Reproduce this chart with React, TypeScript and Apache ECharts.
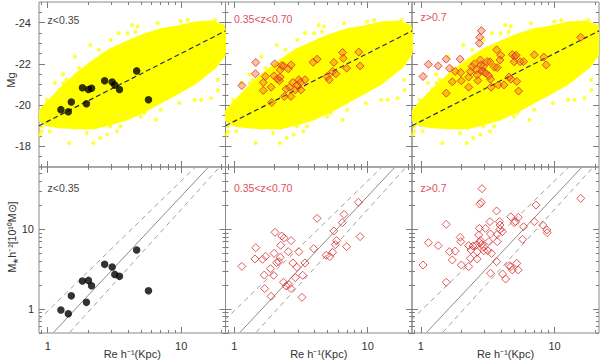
import React, { useEffect, useRef } from "react";
import * as echarts from "echarts";

// ---------- axis ranges & ticks ----------
const reRange = [0.86, 21.5];
const mgRange = [-25, -17];
const massRange = [0.5, 60];

const reMajorTicks = [1, 10];
const reMinorTicks = [0.9, 2, 3, 4, 5, 6, 7, 8, 9, 20];
const mgMajorTicks = [-24, -22, -20, -18];
const mgMinorTicks = [-24.5, -23.5, -23, -22.5, -21.5, -21, -20.5, -19.5, -19, -18.5, -17.5];
const massMajorTicks = [1, 10];
const massMinorTicks = [0.5, 0.6, 0.7, 0.8, 0.9, 2, 3, 4, 5, 6, 7, 8, 9, 20, 30, 40, 50];

// ---------- texts ----------
const panelLabels = ["z<0.35", "0.35<z<0.70", "z>0.7"];
const xAxisTitle = "Re h⁻¹(Kpc)";
const topYTitle = "Mg";
const bottomYTitle = "M⁎h⁻²[10¹⁰M⊙]";

// ---------- background sample (yellow cloud) : [Re, Mg] ----------
const cloudOutline: number[][] = [
  [0.87, -19.68], [0.98, -20.07], [1.23, -20.74], [1.66, -21.52], [2.23, -22.15],
  [2.94, -22.68], [3.96, -23.06], [5.32, -23.4], [7.03, -23.65], [9.44, -23.79],
  [12.7, -23.98], [16.8, -24.03], [20.7, -23.84], [21.8, -23.16], [21.0, -22.44],
  [18.0, -21.86], [12.7, -21.08], [9.44, -20.6], [7.03, -20.16], [5.32, -19.73],
  [3.96, -19.34], [2.94, -19.1], [2.23, -18.9], [1.66, -18.9], [1.23, -18.95],
  [0.98, -19.05], [0.87, -19.29],
];
const cloudOutliers: number[][] = [
  [0.87, -18.57], [0.896, -18.97], [1.035, -18.73], [1.45, -18.16], [2.2, -18.16],
  [1.6, -22.35], [1.38, -21.23], [1.23, -20.74], [2.08, -22.92], [3.4, -23.49],
  [4.55, -23.56], [9.95, -24.05], [2.94, -18.97], [3.3, -18.73], [4.96, -19.45],
  [14.1, -20.26], [16.8, -20.34], [18.8, -21.23], [8.85, -20.58], [7.03, -19.78],
  [18.9, -20.74], [12.6, -20.26], [9.7, -20.1], [5.3, -19.62], [6.5, -19.29],
  [3.52, -18.97], [2.79, -18.57], [3.96, -23.49], [2.96, -23.16], [2.42, -22.68],
  [4.71, -23.81], [6.67, -23.97], [11.2, -24.13], [17.9, -24.13], [0.98, -20.26],
  [1.31, -21.07], [0.9, -18.73], [4.3, -23.89], [1.13, -21.07], [1.72, -21.8],
  [1.96, -18.65], [2.47, -18.41], [1.3, -21.5], [20.5, -22.9],
];

// ---------- relations ----------
const topFitLine: number[][] = [[0.86, -19.0], [21.5, -23.6]];
const bottomSolidLine: number[][] = [[1.106, 0.51], [16.05, 60]];
const bottomUpperDashed: number[][] = [[0.852, 0.728], [12.8, 60]];
const bottomLowerDashed: number[][] = [[1.462, 0.51], [19.45, 60]];

// ---------- z < 0.35 ----------
const lowZTop: number[][] = [
  [1.255, -19.78], [1.426, -19.68], [1.502, -20.15], [1.82, -20.84], [1.95, -20.07],
  [2.02, -20.76], [2.13, -20.82], [2.67, -21.18], [3.04, -21.12], [3.18, -20.97],
  [3.45, -20.76], [4.64, -21.66], [5.69, -20.26],
];
const lowZBottom: number[][] = [
  [1.255, 0.97], [1.426, 0.87], [1.502, 1.46], [1.82, 2.24], [1.95, 1.21],
  [2.02, 2.28], [2.13, 1.95], [2.67, 3.62], [3.04, 3.35], [3.18, 2.71],
  [3.45, 2.56], [4.64, 5.47], [5.69, 1.69],
];

// ---------- 0.35 < z < 0.70 ----------
const midZTop: number[][] = [
  [1.14, -20.95], [1.45, -22.07], [1.44, -21.52], [1.65, -21.1], [1.71, -21.39],
  [1.65, -20.71], [1.91, -20.13], [1.89, -20.87], [2.01, -22.0], [1.99, -21.42],
  [2.11, -21.27], [2.18, -21.18], [2.21, -21.71], [2.27, -21.92], [2.34, -21.9],
  [2.54, -21.76], [2.67, -21.95], [2.21, -21.36], [2.37, -20.42], [2.45, -20.78],
  [2.6, -20.87], [2.66, -20.42], [2.75, -21.1], [2.87, -20.74], [2.95, -20.97],
  [3.05, -21.23], [3.16, -20.74], [3.39, -21.23], [3.13, -21.1], [3.9, -22.08],
  [4.18, -22.23], [4.97, -21.39], [5.15, -21.23], [5.46, -21.63], [5.58, -22.07],
  [5.78, -21.52], [6.49, -22.55], [6.57, -22.27], [6.96, -21.79], [8.58, -22.57],
  [8.78, -21.9],
];
const midZBottom: number[][] = [
  [1.14, 3.42], [1.45, 5.86], [1.43, 4.23], [1.63, 4.19], [1.72, 4.56],
  [1.68, 2.66], [1.69, 1.8], [1.89, 1.44], [1.87, 3.2], [1.97, 2.64],
  [2.02, 9.12], [1.99, 4.97], [2.08, 3.8], [2.16, 3.91], [2.21, 4.43],
  [2.23, 6.27], [2.27, 8.2], [2.37, 7.74], [2.54, 5.22], [2.67, 7.17],
  [2.34, 2.16], [2.45, 1.94], [2.57, 2.02], [2.66, 1.8], [2.75, 3.77],
  [2.87, 2.47], [2.95, 3.32], [3.05, 5.22], [3.26, 2.64], [3.39, 3.77],
  [3.22, 1.4], [3.94, 5.69], [4.18, 13.65], [4.89, 4.7], [5.21, 4.52],
  [5.46, 5.12], [5.58, 9.47], [5.72, 6.39], [5.85, 7.17], [6.46, 12.05],
  [6.65, 15.3], [6.96, 6.03], [8.53, 21.7], [8.78, 8.05],
];

// ---------- z > 0.7 ----------
const highZTop: number[][] = [
  [1.04, -21.39], [1.14, -21.98], [1.35, -21.9], [1.55, -22.23], [1.55, -20.58],
  [1.64, -21.79], [1.72, -21.13], [1.81, -21.63], [1.97, -22.23], [1.99, -21.58],
  [2.01, -21.18], [2.28, -21.36], [2.28, -20.87], [2.35, -21.63], [2.42, -21.87],
  [2.52, -22.0], [2.6, -21.71], [2.67, -21.19], [2.74, -23.0], [2.76, -23.29],
  [2.84, -23.61], [2.79, -22.19], [2.82, -21.95], [2.86, -21.66], [2.93, -21.87],
  [2.96, -21.63], [3.14, -22.11], [3.29, -22.1], [3.23, -21.42], [3.32, -21.26],
  [3.36, -20.87], [3.56, -21.84], [3.69, -22.68], [3.73, -21.82], [3.8, -20.98],
  [3.91, -22.19], [3.96, -22.42], [4.19, -20.98], [4.57, -21.36], [4.71, -21.26],
  [4.84, -22.45], [4.99, -22.1], [5.05, -22.36], [5.16, -22.42], [5.22, -21.15],
  [5.38, -20.68], [5.54, -22.1], [5.87, -22.11], [7.06, -22.44], [8.31, -22.33],
  [8.66, -21.95], [15.7, -23.29], [2.64, -21.47], [3.05, -21.55],
];
const highZBottom: number[][] = [
  [1.04, 3.55], [1.14, 6.77], [1.35, 6.21], [1.55, 11.48], [1.55, 2.16],
  [1.64, 5.22], [1.72, 4.11], [1.81, 5.32], [1.97, 7.89], [1.99, 6.97],
  [2.01, 3.55], [2.28, 3.39], [2.28, 6.21], [2.35, 4.31], [2.37, 5.48],
  [2.46, 6.15], [2.6, 6.33], [2.64, 4.23], [2.71, 8.44], [2.74, 10.23],
  [2.76, 6.77], [2.79, 7.17], [2.84, 21.7], [2.76, 20.6], [2.87, 32.1],
  [2.86, 6.45], [2.96, 5.37], [3.05, 10.23], [3.17, 5.37], [3.23, 6.97],
  [3.29, 12.4], [3.32, 8.69], [3.38, 4.97], [3.32, 2.8], [3.69, 16.9],
  [3.69, 3.91], [3.73, 8.61], [3.73, 6.97], [3.87, 12.4], [3.91, 11.26],
  [3.91, 9.94], [4.07, 9.29], [4.09, 2.74], [4.31, 2.37], [4.57, 3.49],
  [4.71, 3.39], [4.84, 3.08], [4.71, 14.3], [4.99, 12.05], [5.13, 12.4],
  [5.22, 3.73], [5.35, 14.05], [5.35, 3.08], [5.87, 10.73], [5.77, 7.45],
  [7.06, 12.4], [7.27, 20.0], [8.17, 11.26], [8.76, 9.75], [8.81, 9.03],
  [15.7, 24.3], [2.96, 5.92], [2.64, 5.22],
];

const topSets = [lowZTop, midZTop, highZTop];
const bottomSets = [lowZBottom, midZBottom, highZBottom];

// ---------- layout / style ----------
const FONT = "'Liberation Sans', Arial, Helvetica, sans-serif";
const PANEL_LEFT = [39, 225.5, 412];
const PANEL_W = [186.5, 186.5, 187];
const ROW_TOP = [2, 167];
const ROW_H = [165, 166];
const TICK_COLOR = "#7d7d7d";
const CLOUD = "#ffff00";
const RED = "#dc2e2e";
const LABEL_COLORS = ["#444444", "#e2505c", "#e2505c"];
const TOP_LABEL_Y = [20, 19, 16.5];
const BOTTOM_LABEL_Y = 188;

function tick(values: number[], len: number) {
  return { show: true, inside: true, length: len, customValues: values, lineStyle: { color: TICK_COLOR, width: 1 } };
}
function label(values: number[], margin: number) {
  return { show: true, customValues: values, margin, fontSize: 11, color: "#333", fontFamily: FONT };
}

function buildOption() {
  const grids: any[] = [];
  const xAxes: any[] = [];
  const yAxes: any[] = [];
  for (let r = 0; r < 2; r++) {
    for (let p = 0; p < 3; p++) {
      const gi = r * 3 + p;
      grids.push({
        left: PANEL_LEFT[p], top: ROW_TOP[r], width: PANEL_W[p], height: ROW_H[r],
        show: true, borderColor: "#8a8a8a", borderWidth: 1, backgroundColor: "transparent",
      });
      const xBase = {
        type: "log", logBase: 10, min: reRange[0], max: reRange[1], gridIndex: gi,
        axisLine: { show: false, onZero: false }, splitLine: { show: false },
        axisLabel: { show: false }, axisTick: { show: false },
      };
      const xLab = r === 1 ? label(reMajorTicks, 7) : { show: false };
      xAxes.push({ ...xBase, position: "bottom", axisTick: tick(reMajorTicks, 6), axisLabel: xLab });
      xAxes.push({ ...xBase, position: "bottom", axisTick: tick(reMinorTicks, 3) });
      xAxes.push({ ...xBase, position: "top", axisTick: tick(reMajorTicks, 6) });
      xAxes.push({ ...xBase, position: "top", axisTick: tick(reMinorTicks, 3) });

      const yScale =
        r === 0
          ? { type: "value", min: mgRange[0], max: mgRange[1], inverse: true }
          : { type: "log", logBase: 10, min: massRange[0], max: massRange[1] };
      const major = r === 0 ? mgMajorTicks : massMajorTicks;
      const minor = r === 0 ? mgMinorTicks : massMinorTicks;
      const yBase = {
        ...yScale, gridIndex: gi,
        axisLine: { show: false, onZero: false }, splitLine: { show: false },
        axisLabel: { show: false }, axisTick: { show: false },
      };
      const yLab = p === 0 ? label(major, r === 0 ? 8 : 5) : { show: false };
      yAxes.push({ ...yBase, position: "left", axisTick: tick(major, 6), axisLabel: yLab });
      yAxes.push({ ...yBase, position: "left", axisTick: tick(minor, 3) });
      yAxes.push({ ...yBase, position: "right", axisTick: tick(major, 6) });
      yAxes.push({ ...yBase, position: "right", axisTick: tick(minor, 3) });
    }
  }

  const series: any[] = [];
  for (let p = 0; p < 3; p++) {
    const t = p * 4;
    const b = (3 + p) * 4;
    series.push({
      type: "custom", xAxisIndex: t, yAxisIndex: t, data: cloudOutline, clip: true, silent: true, z: 1,
      renderItem: (params: any, api: any) => {
        if (params.dataIndex !== 0) return null;
        const pts = cloudOutline.map((d) => api.coord(d));
        return {
          type: "polygon",
          shape: { points: pts },
          style: { fill: CLOUD, stroke: CLOUD, lineWidth: 3, lineJoin: "round" },
        };
      },
    });
    series.push({
      type: "scatter", xAxisIndex: t, yAxisIndex: t, data: cloudOutliers, symbolSize: 4,
      itemStyle: { color: CLOUD }, silent: true, z: 2,
    });
    series.push({
      type: "line", xAxisIndex: t, yAxisIndex: t, data: topFitLine, symbol: "none", silent: true, z: 3,
      lineStyle: { color: "#2b2b55", width: 1.2, type: [5, 3] },
    });
    series.push(
      p === 0
        ? {
            type: "scatter", xAxisIndex: t, yAxisIndex: t, data: topSets[p], symbol: "circle", symbolSize: 7.5,
            itemStyle: { color: "#000" }, z: 4,
          }
        : {
            type: "scatter", xAxisIndex: t, yAxisIndex: t, data: topSets[p], symbol: "diamond", symbolSize: 8,
            itemStyle: { color: "rgba(240,100,30,0.5)", borderColor: RED, borderWidth: 1 }, z: 4,
          }
    );

    series.push({
      type: "line", xAxisIndex: b, yAxisIndex: b, data: bottomSolidLine, symbol: "none", silent: true, z: 2,
      lineStyle: { color: "#8c8c8c", width: 1 },
    });
    series.push({
      type: "line", xAxisIndex: b, yAxisIndex: b, data: bottomUpperDashed, symbol: "none", silent: true, z: 2,
      lineStyle: { color: "#a0a0a0", width: 1, type: [5, 4] },
    });
    series.push({
      type: "line", xAxisIndex: b, yAxisIndex: b, data: bottomLowerDashed, symbol: "none", silent: true, z: 2,
      lineStyle: { color: "#a0a0a0", width: 1, type: [5, 4] },
    });
    series.push(
      p === 0
        ? {
            type: "scatter", xAxisIndex: b, yAxisIndex: b, data: bottomSets[p], symbol: "circle", symbolSize: 7.5,
            itemStyle: { color: "#000" }, z: 4,
          }
        : {
            type: "scatter", xAxisIndex: b, yAxisIndex: b, data: bottomSets[p], symbol: "diamond", symbolSize: 8,
            itemStyle: { color: "rgba(255,255,255,0)", borderColor: RED, borderWidth: 1 }, z: 4,
          }
    );
  }

  const graphic: any[] = [];
  for (let p = 0; p < 3; p++) {
    const lx = PANEL_LEFT[p] + 8.5;
    graphic.push({
      type: "text", x: lx, y: TOP_LABEL_Y[p], z: 100,
      style: { text: panelLabels[p], fill: LABEL_COLORS[p], fontSize: 10.5, fontFamily: FONT, align: "left", verticalAlign: "middle" },
    });
    graphic.push({
      type: "text", x: lx, y: BOTTOM_LABEL_Y, z: 100,
      style: { text: panelLabels[p], fill: LABEL_COLORS[p], fontSize: 10.5, fontFamily: FONT, align: "left", verticalAlign: "middle" },
    });
    graphic.push({
      type: "text", x: PANEL_LEFT[p] + PANEL_W[p] / 2, y: 354, z: 100,
      style: { text: xAxisTitle, fill: "#333", fontSize: 11, fontFamily: FONT, align: "center", verticalAlign: "middle" },
    });
  }
  graphic.push({
    type: "text", x: 11, y: 80, rotation: Math.PI / 2, z: 100,
    style: { text: topYTitle, fill: "#333", fontSize: 11, fontFamily: FONT, align: "center", verticalAlign: "middle" },
  });
  graphic.push({
    type: "text", x: 12, y: 237, rotation: Math.PI / 2, z: 100,
    style: { text: bottomYTitle, fill: "#333", fontSize: 10.5, fontFamily: FONT, align: "center", verticalAlign: "middle" },
  });

  return {
    animation: false,
    backgroundColor: "#ffffff",
    grid: grids,
    xAxis: xAxes,
    yAxis: yAxes,
    series,
    graphic,
  };
}

export default function App() {
  const ref = useRef<HTMLDivElement>(null);
  useEffect(() => {
    if (!ref.current) return;
    const chart = echarts.init(ref.current, undefined, { renderer: "svg" });
    chart.setOption(buildOption() as any);
    return () => chart.dispose();
  }, []);
  return (
    <div
      ref={ref}
      style={{ position: "absolute", left: 0, top: 0, width: 600, height: 362, background: "#fff" }}
    />
  );
}
